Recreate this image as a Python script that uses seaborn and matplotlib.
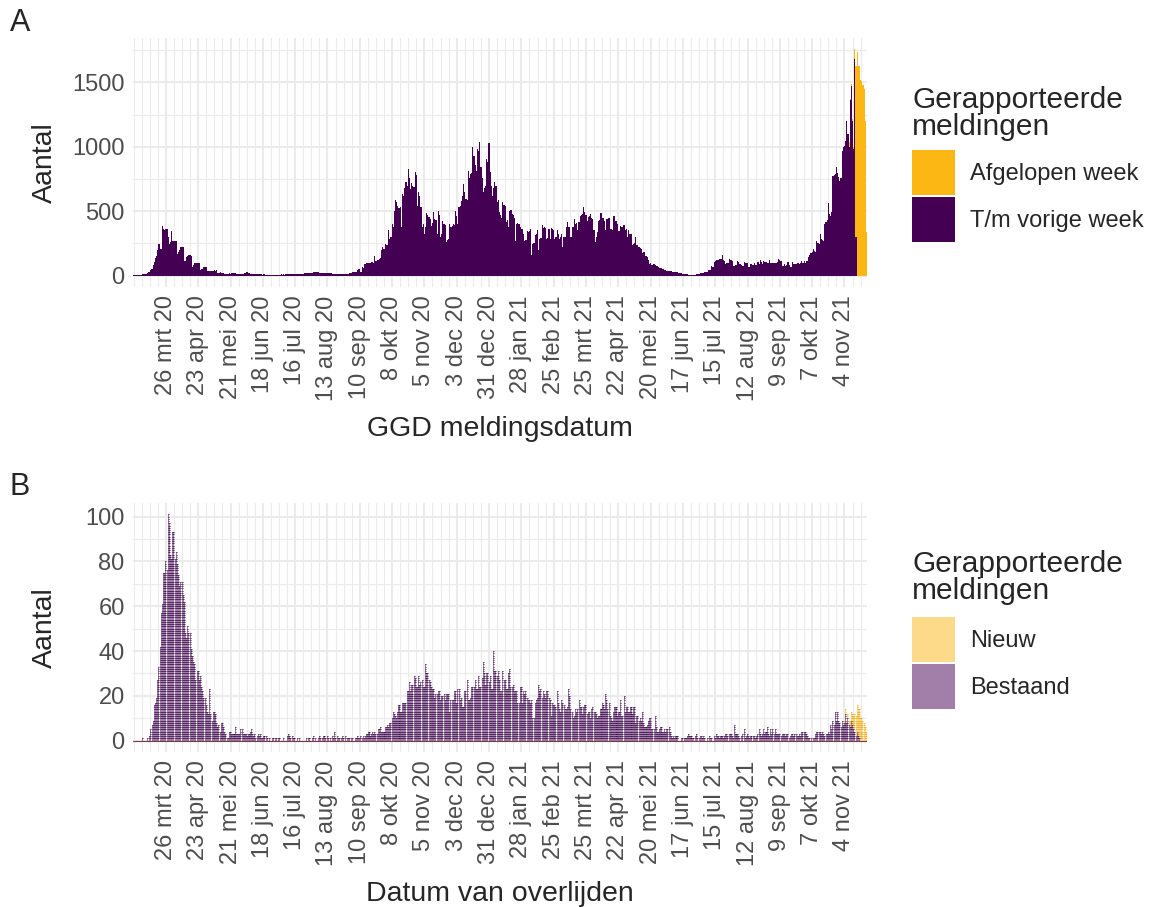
import numpy as np
import pandas as pd
import seaborn as sns
import matplotlib.pyplot as plt
from matplotlib.patches import Patch

# ==========================================
# DATA (1 waarde per dag vanaf 27 feb 2020)
# ==========================================
datum_labels = ["26 mrt 20", "23 apr 20", "21 mei 20", "18 jun 20", "16 jul 20",
                "13 aug 20", "10 sep 20", "8 okt 20", "5 nov 20", "3 dec 20",
                "31 dec 20", "28 jan 21", "25 feb 21", "25 mrt 21", "22 apr 21",
                "20 mei 21", "17 jun 21", "15 jul 21", "12 aug 21", "9 sep 21",
                "7 okt 21", "4 nov 21"]

# Paneel A: GGD meldingen, t/m vorige week (per week van 7 dagen)
ggd_voorjaar_2020 = [
    2, 5, 6, 7, 8, 8, 8,
    9, 12, 15, 15, 16, 20, 28,
    30, 45, 54, 80, 105, 140, 150,
    196, 243, 209, 205, 382, 360, 351,
    364, 364, 304, 248, 260, 346, 266,
    266, 266, 268, 170, 180, 196, 222,
    222, 220, 111, 115, 145, 150, 157,
    157, 155, 67, 80, 100, 100, 102,
    98, 100, 41, 54, 55, 67, 67,
    65, 36, 38, 36, 35, 37, 36,
    41, 40, 41, 20, 22, 25, 20,
    20, 18, 15, 14, 16, 15, 18,
    16, 18, 20, 22, 18, 15, 14,
]
ggd_zomer_2020 = [
    15, 14, 13, 16, 15, 20, 22,
    31, 25, 18, 15, 14, 14, 12,
    12, 11, 10, 12, 11, 10, 10,
    9, 10, 8, 9, 8, 8, 8,
    7, 8, 9, 8, 9, 8, 9,
    9, 8, 10, 9, 10, 9, 10,
    10, 11, 10, 11, 12, 11, 12,
    13, 14, 15, 14, 15, 16, 15,
    16, 18, 17, 19, 20, 18, 20,
    22, 24, 25, 28, 26, 28, 25,
    22, 20, 22, 20, 21, 22, 20,
    20, 19, 20, 18, 15, 16, 15,
    14, 15, 13, 13, 12, 13, 13,
    13, 14, 13, 15, 14, 18, 20,
]
ggd_najaar_2020 = [
    20, 28, 28, 30, 28, 41, 54,
    48, 28, 67, 60, 93, 90, 95,
    98, 96, 100, 105, 110, 102, 150,
    113, 118, 120, 131, 135, 196, 222,
    210, 248, 235, 240, 356, 286, 300,
    402, 380, 505, 588, 570, 544, 526,
    530, 376, 635, 620, 681, 725, 700,
    828, 760, 673, 717, 700, 690, 807,
    780, 544, 647, 620, 531, 376, 400,
    325, 380, 490, 470, 454, 440, 384,
    410, 492, 441, 430, 325, 505, 470,
    299, 320, 428, 402, 390, 260, 280,
    286, 402, 380, 389, 400, 395, 505,
    460, 402, 531, 540, 583, 620, 712,
    650, 596, 590, 810, 760, 789, 800,
    996, 931, 860, 810, 983, 970, 1035,
    841, 760, 648, 680, 699, 906, 880,
    1027, 802, 700, 622, 680, 725, 700,
    570, 590, 493, 470, 449, 570, 552,
]
ggd_voorjaar_2021 = [
    544, 415, 430, 377, 500, 510, 480,
    470, 449, 273, 402, 410, 402, 377,
    364, 360, 325, 273, 280, 346, 340,
    346, 364, 157, 248, 250, 312, 320,
    351, 196, 286, 290, 390, 372, 380,
    372, 286, 290, 364, 286, 369, 360,
    356, 286, 300, 351, 325, 286, 300,
    320, 222, 299, 300, 377, 415, 377,
    380, 299, 377, 380, 441, 402, 410,
    351, 415, 467, 470, 480, 537, 493,
    470, 428, 454, 460, 475, 449, 440,
    356, 260, 300, 338, 428, 430, 485,
    449, 450, 423, 351, 441, 440, 449,
    364, 360, 351, 467, 460, 428, 402,
    346, 350, 389, 377, 380, 390, 351,
    360, 299, 351, 325, 320, 235, 248,
    250, 299, 235, 240, 222, 217, 210,
    176, 183, 180, 150, 145, 120, 93,
    98, 80, 85, 93, 80, 72, 72,
    67, 62, 59, 54, 50, 46, 41,
    38, 36, 36, 35, 33, 31, 30,
    28, 26, 25, 23, 21, 20, 18,
]
ggd_zomer_najaar_2021 = [
    15, 14, 13, 12, 10, 9, 8,
    7, 6, 6, 7, 8, 10, 14,
    15, 20, 21, 22, 21, 28, 27,
    30, 46, 45, 41, 72, 70, 106,
    115, 119, 122, 124, 128, 132, 157,
    119, 115, 93, 98, 100, 132, 125,
    119, 114, 75, 78, 80, 111, 108,
    88, 88, 86, 75, 106, 98, 100,
    101, 67, 70, 88, 83, 85, 98,
    80, 82, 106, 93, 119, 110, 93,
    111, 109, 108, 98, 100, 124, 98,
    98, 97, 98, 99, 98, 108, 126,
    120, 111, 72, 75, 93, 77, 80,
    106, 80, 67, 70, 106, 88, 88,
    90, 98, 97, 88, 98, 111, 100,
    111, 98, 111, 112, 145, 160, 175,
    183, 206, 190, 183, 268, 250, 248,
    325, 286, 280, 273, 402, 420, 436,
    562, 480, 467, 493, 777, 780, 789,
    841, 800, 764, 738, 760, 970, 996,
    1010, 1047, 1202, 1100, 1001, 1362, 1473,
    1200, 983, 1680, 300, 0, 0, 0,
    0, 0, 0, 0, 0, 0,
]
# Paneel A: afgelopen week gemeld (laatste 16 dagen, t/m 23 nov 2021)
ggd_afgelopen_week = [40, 13, 17, 20, 18, 77, 1328, 1739, 1628, 1628,
                      1517, 1512, 1481, 1450, 1202, 338]

# Paneel B: overlijdens, bestaand
overl_voorjaar_2020 = [
    0, 0, 0, 0, 0, 0, 0,
    0, 1, 0, 0, 0, 1, 0,
    2, 5, 7, 9, 16, 17, 19,
    27, 33, 42, 57, 61, 75, 75,
    80, 76, 101, 97, 83, 81, 93,
    93, 81, 84, 79, 74, 69, 71,
    71, 65, 62, 48, 46, 51, 48,
    48, 41, 38, 35, 34, 27, 31,
    31, 27, 29, 24, 22, 19, 19,
    16, 13, 12, 23, 12, 9, 13,
    13, 12, 8, 6, 7, 4, 8,
    8, 6, 4, 3, 1, 1, 4,
    4, 3, 3, 3, 6, 3, 3,
]
overl_zomer_2020 = [
    3, 3, 5, 5, 3, 3, 3,
    3, 2, 3, 4, 5, 3, 2,
    3, 1, 2, 3, 2, 3, 1,
    1, 2, 0, 2, 1, 0, 1,
    0, 1, 1, 0, 1, 1, 0,
    1, 0, 0, 0, 1, 0, 0,
    2, 3, 2, 1, 0, 2, 1,
    0, 0, 1, 0, 1, 0, 0,
    0, 0, 0, 1, 0, 1, 0,
    0, 1, 2, 0, 1, 0, 1,
    2, 1, 0, 1, 2, 1, 0,
    2, 1, 0, 1, 2, 1, 4,
    1, 0, 2, 1, 0, 1, 2,
    1, 0, 2, 1, 1, 1, 0,
]
overl_najaar_2020 = [
    1, 1, 0, 1, 1, 2, 1,
    1, 2, 1, 2, 1, 2, 3,
    3, 4, 2, 3, 4, 3, 4,
    3, 3, 5, 5, 6, 4, 4,
    4, 6, 6, 7, 6, 8, 8,
    10, 13, 12, 11, 10, 13, 16,
    13, 13, 17, 17, 17, 17, 22,
    22, 26, 22, 25, 25, 29, 28,
    24, 24, 29, 25, 26, 27, 24,
    24, 34, 30, 30, 27, 26, 24,
    23, 23, 19, 21, 21, 22, 22,
    18, 20, 20, 21, 18, 21, 21,
    21, 13, 18, 18, 18, 22, 22,
    17, 23, 23, 18, 19, 15, 15,
    22, 22, 27, 18, 18, 19, 24,
    24, 24, 27, 23, 23, 29, 24,
    24, 28, 35, 30, 25, 30, 30,
    26, 29, 23, 23, 40, 31, 31,
    29, 31, 27, 22, 22, 31, 27,
]
overl_2021 = [
    27, 23, 23, 30, 32, 24, 24,
    25, 22, 22, 22, 17, 17, 24,
    24, 17, 22, 21, 22, 19, 18,
    18, 17, 18, 10, 10, 17, 18,
    19, 25, 22, 23, 19, 22, 21,
    19, 22, 22, 19, 18, 11, 17,
    16, 16, 15, 22, 17, 14, 13,
    18, 17, 16, 14, 14, 15, 23,
    20, 14, 13, 10, 11, 14, 13,
    14, 18, 15, 15, 12, 15, 16,
    16, 12, 13, 13, 10, 14, 15,
    13, 13, 12, 10, 11, 11, 14,
    17, 16, 14, 21, 18, 14, 17,
    11, 10, 9, 13, 15, 15, 11,
    13, 13, 18, 11, 11, 20, 13,
    15, 15, 13, 13, 15, 12, 15,
    15, 8, 11, 11, 9, 10, 9,
    13, 8, 6, 6, 7, 9, 10,
    10, 5, 5, 5, 11, 6, 4,
    4, 5, 6, 4, 4, 5, 4,
    5, 5, 6, 4, 2, 1, 2,
    1, 2, 2, 0, 0, 0, 1,
    1, 1, 1, 1, 2, 3, 2,
    2, 1, 1, 0, 2, 3, 1,
    1, 2, 2, 1, 2, 1, 0,
    1, 0, 2, 1, 1, 0, 2,
    1, 3, 2, 2, 1, 2, 2,
    1, 2, 3, 3, 2, 3, 3,
    3, 2, 1, 7, 3, 3, 2,
    1, 0, 2, 3, 5, 1, 2,
    3, 2, 1, 2, 0, 2, 2,
    1, 2, 3, 5, 3, 2, 3,
    5, 3, 4, 6, 3, 2, 5,
    3, 5, 3, 5, 3, 3, 3,
    3, 2, 3, 3, 3, 2, 3,
    3, 1, 2, 3, 3, 2, 3,
    3, 2, 2, 3, 2, 4, 4,
    4, 4, 3, 2, 1, 1, 1,
    0, 1, 1, 3, 4, 4, 4,
    4, 3, 4, 3, 2, 3, 3,
    4, 3, 7, 5, 9, 7, 13,
    9, 13, 9, 8, 6, 9, 7,
    8, 12, 8, 10, 7, 6, 9,
    7, 5, 4, 2, 4, 2, 1,
    0, 0, 0, 0, 0, 0,
]
# Paneel B: nieuw gemeld (laatste 20 dagen)
overl_nieuw = [1, 2, 1, 2, 2, 3, 4, 5, 6, 8, 9, 12, 12, 13, 10, 10, 9, 8, 6, 4]

# ==========================================
# DATAFRAMES
# ==========================================
ggd_oud = np.array(ggd_voorjaar_2020 + ggd_zomer_2020 + ggd_najaar_2020
                   + ggd_voorjaar_2021 + ggd_zomer_najaar_2021)
n_dagen = len(ggd_oud)
ggd_nieuw = np.zeros(n_dagen, dtype=int)
ggd_nieuw[-len(ggd_afgelopen_week):] = ggd_afgelopen_week

ov_oud = np.array(overl_voorjaar_2020 + overl_zomer_2020 + overl_najaar_2020 + overl_2021)
ov_nieuw = np.zeros(len(ov_oud), dtype=int)
ov_nieuw[-len(overl_nieuw):] = overl_nieuw

dagen = np.arange(n_dagen)
df_a = pd.DataFrame({
    'dag': np.concatenate([dagen, dagen]),
    'aantal': np.concatenate([ggd_nieuw, ggd_oud]),
    'soort': ['Afgelopen week'] * n_dagen + ['T/m vorige week'] * n_dagen,
})
dagen_b = np.arange(len(ov_oud))
df_b = pd.DataFrame({
    'dag': np.concatenate([dagen_b, dagen_b]),
    'aantal': np.concatenate([ov_nieuw, ov_oud]),
    'soort': ['Nieuw'] * len(ov_oud) + ['Bestaand'] * len(ov_oud),
})

ORANJE = '#FDB714'
PAARS = '#440154'

# ==========================================
# FIGUUR
# ==========================================
sns.set_theme(style='white')
plt.rcParams['font.family'] = ['Liberation Sans', 'DejaVu Sans']

fig = plt.figure(figsize=(11.5, 9.07), dpi=100)
ax_a = fig.add_axes([133 / 1150, 1 - 287 / 907, 734 / 1150, 249 / 907])
ax_b = fig.add_axes([133 / 1150, 1 - 752 / 907, 734 / 1150, 249 / 907])

sns.histplot(data=df_a, x='dag', weights='aantal', hue='soort',
             hue_order=['Afgelopen week', 'T/m vorige week'],
             palette={'Afgelopen week': ORANJE, 'T/m vorige week': PAARS},
             multiple='stack', discrete=True, shrink=1.0, alpha=1,
             linewidth=0, legend=False, ax=ax_a)

sns.histplot(data=df_b, x='dag', weights='aantal', hue='soort',
             hue_order=['Nieuw', 'Bestaand'],
             palette={'Nieuw': ORANJE, 'Bestaand': PAARS},
             multiple='stack', discrete=True, shrink=0.9, alpha=0.5,
             linewidth=0, legend=False, ax=ax_b)

# streepjes per overlijden (elke melding is een blokje)
xs_p, ys_p, xs_o, ys_o = [], [], [], []
for d, (p, n) in enumerate(zip(ov_oud, ov_nieuw)):
    for k in range(1, p + 1):
        xs_p.append(d); ys_p.append(k)
    for k in range(p + 1, p + n + 1):
        xs_o.append(d); ys_o.append(k)
xs_p, ys_p = np.array(xs_p), np.array(ys_p)
xs_o, ys_o = np.array(xs_o), np.array(ys_o)
ax_b.hlines(ys_p, xs_p - 0.45, xs_p + 0.45, color='#360848', lw=0.65, alpha=1, zorder=3)
ax_b.hlines(ys_o, xs_o - 0.45, xs_o + 0.45, color='#e69a00', lw=0.6, alpha=0.9, zorder=3)
ax_b.axhline(0, xmin=0, xmax=1, color='#7a3a40', lw=0.8, zorder=4)

# ==========================================
# ASSEN / GRID
# ==========================================
major_x = np.arange(28, n_dagen, 28)[:len(datum_labels)]
minor_x = np.arange(0, n_dagen, 7)

for ax, ymax, ymajor, yminor, xtitle in [
        (ax_a, 1845, [0, 500, 1000, 1500], [250, 750, 1250, 1750], 'GGD meldingsdatum'),
        (ax_b, 106.05, [0, 20, 40, 60, 80, 100], [10, 30, 50, 70, 90], 'Datum van overlijden')]:
    ax.set_xlim(-0.5, n_dagen - 0.5)
    ax.set_ylim(-ymax * 0.05 / 1.05, ymax)
    ax.set_xticks(major_x)
    ax.set_xticklabels(datum_labels, rotation=90, fontsize=17, color='#4D4D4D')
    ax.set_xticks(minor_x, minor=True)
    ax.set_yticks(ymajor)
    ax.set_yticklabels([str(v) for v in ymajor], fontsize=17, color='#4D4D4D')
    ax.set_yticks(yminor, minor=True)
    ax.grid(which='major', color='#EBEBEB', lw=1.5)
    ax.grid(which='minor', color='#EBEBEB', lw=0.8)
    ax.set_axisbelow(True)
    ax.tick_params(which='both', length=0, pad=6)
    for s in ax.spines.values():
        s.set_visible(False)
    ax.set_xlabel(xtitle, fontsize=20.5)
    ax.set_ylabel('Aantal', fontsize=20.5)
    ax.xaxis.set_label_coords(0.5, -0.52)
    ax.yaxis.set_label_coords(-0.102, 0.5)

# ==========================================
# LEGENDA'S EN LETTERS
# ==========================================
fig.text(10 / 1150, 1 - 8 / 907, 'A', fontsize=22, va='top', ha='left')
fig.text(10 / 1150, 1 - 472 / 907, 'B', fontsize=22, va='top', ha='left')

leg_kw = dict(loc='upper left', frameon=False, fontsize=17,
              handlelength=1.82, handleheight=2.56, labelspacing=0.08,
              handletextpad=0.65, borderpad=0, borderaxespad=0)
for titel_y, keys_y, handles in [
        (86, 150, [Patch(facecolor=ORANJE, edgecolor='none', label='Afgelopen week'),
                   Patch(facecolor=PAARS, edgecolor='none', label='T/m vorige week')]),
        (550, 617, [Patch(facecolor=ORANJE, alpha=0.5, edgecolor='none', label='Nieuw'),
                    Patch(facecolor=PAARS, alpha=0.5, edgecolor='none', label='Bestaand')])]:
    fig.text(912 / 1150, 1 - titel_y / 907, 'Gerapporteerde\nmeldingen', fontsize=21.5,
             va='top', ha='left', linespacing=0.95)
    fig.legend(handles=handles, bbox_to_anchor=(912 / 1150, 1 - keys_y / 907), **leg_kw)

fig.savefig('out.png', dpi=100)
